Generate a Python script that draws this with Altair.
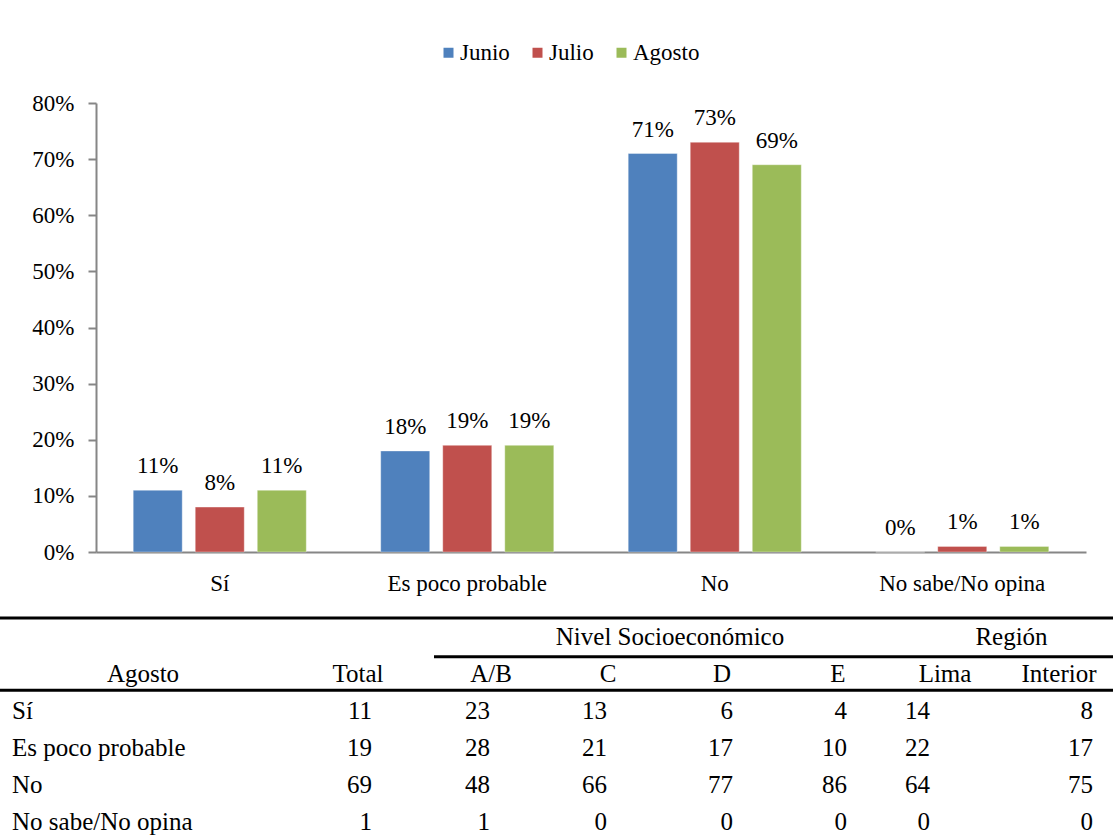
import altair as alt
import pandas as pd

# --- survey answers by month (percent) ---
categories = ["Sí", "Es poco probable", "No", "No sabe/No opina"]
months = ["Junio", "Julio", "Agosto"]
junio = [11, 18, 71, 0]
julio = [8, 19, 73, 1]
agosto = [11, 19, 69, 1]
month_colors = ["#4F81BD", "#C0504D", "#9BBB59"]
y_ticks = [0, 10, 20, 30, 40, 50, 60, 70, 80]

# --- August breakdown table ---
table_title = "Agosto"
table_columns = ["Total", "A/B", "C", "D", "E", "Lima", "Interior"]
row_si = [11, 23, 13, 6, 4, 14, 8]
row_poco = [19, 28, 21, 17, 10, 22, 17]
row_no = [69, 48, 66, 77, 86, 64, 75]
row_nsno = [1, 1, 0, 0, 0, 0, 0]
column_groups = {
    "Nivel Socioeconómico": ["A/B", "C", "D", "E"],
    "Región": ["Lima", "Interior"],
}

FONT = "Liberation Serif"
CHART_FS = 23
TABLE_FS = 25
W, H = 1113, 837

# ---------------- bar chart ----------------
bar_rows = []
for m, series in zip(months, [junio, julio, agosto]):
    for c, v in zip(categories, series):
        bar_rows.append({"cat": c, "mes": m, "val": v, "lbl": f"{v}%"})
bars_df = pd.DataFrame(bar_rows)

x_bar = alt.X(
    "cat:N",
    sort=categories,
    scale=alt.Scale(domain=categories, range=[96, 1086], paddingInner=0, paddingOuter=0),
    axis=alt.Axis(
        title=None, ticks=False, tickSize=0, labelPadding=20, labelAngle=0,
        domainColor="#868686", domainWidth=2, labelFont=FONT, labelFontSize=CHART_FS,
        labelColor="black", offset=-(H - 552),
    ),
)
xoff_bar = alt.XOffset(
    "mes:N", sort=months,
    scale=alt.Scale(domain=months, paddingInner=0.21, paddingOuter=0.6),
)
y_bar = alt.Y(
    "val:Q",
    scale=alt.Scale(domain=[0, 80], range=[552, 103], nice=False),
    axis=alt.Axis(
        title=None, values=y_ticks, labelExpr="datum.value + '%'", grid=False,
        tickSize=8, tickWidth=2, tickColor="#868686", domainColor="#868686",
        domainWidth=2, labelPadding=14, labelFont=FONT, labelFontSize=CHART_FS,
        labelColor="black", offset=-96,
    ),
)

base = alt.Chart(bars_df).encode(x=x_bar, xOffset=xoff_bar, y=y_bar)
bars = base.mark_bar(stroke="white", strokeOpacity=0.35, strokeWidth=1).encode(
    color=alt.Color(
        "mes:N", sort=months,
        scale=alt.Scale(domain=months, range=month_colors),
        legend=alt.Legend(
            title=None, orient="none", legendX=437, legendY=41,
            direction="horizontal", symbolType="square", symbolSize=100,
            symbolStrokeWidth=0, labelFont=FONT, labelFontSize=CHART_FS,
            labelColor="black", labelOffset=0, columnPadding=16, padding=0,
        ),
    )
)
value_labels = base.mark_text(
    font=FONT, fontSize=CHART_FS, baseline="alphabetic", dy=-17, color="black"
).encode(text="lbl:N")
bar_chart = alt.layer(bars, value_labels)

# ---------------- table ----------------
row_keys = ["grp", "hdr"] + categories
row_scale = alt.Scale(domain=row_keys, range=[618, 840], paddingInner=0, paddingOuter=0)
TEXT_BAND = 0.45


def row_y(band_pos=TEXT_BAND):
    return alt.Y("row:N", scale=row_scale, axis=None, bandPosition=band_pos)


# column headers, centred; index 0 is the title column
header_df = pd.DataFrame(
    {"row": "hdr", "ci": list(range(len(table_columns) + 1)),
     "txt": [table_title] + table_columns}
)
header_scale = alt.Scale(
    domain=list(range(len(table_columns) + 1)),
    range=[143, 358, 491, 608, 722, 838, 945, 1059], nice=False, zero=False,
)
headers = alt.Chart(header_df).mark_text(
    font=FONT, fontSize=TABLE_FS, baseline="middle", align="center", color="black"
).encode(x=alt.X("ci:Q", scale=header_scale, axis=None), y=row_y(), text="txt:N")

# numeric cells, right aligned
cell_rows = []
for r, vals in zip(categories, [row_si, row_poco, row_no, row_nsno]):
    for i, v in enumerate(vals):
        cell_rows.append({"row": r, "ci": i + 1, "txt": str(v)})
cell_scale = alt.Scale(
    domain=list(range(1, len(table_columns) + 1)),
    range=[372, 490, 607, 733, 847, 930, 1093], nice=False, zero=False,
)
cells = alt.Chart(pd.DataFrame(cell_rows)).mark_text(
    font=FONT, fontSize=TABLE_FS, baseline="middle", align="right", color="black"
).encode(x=alt.X("ci:Q", scale=cell_scale, axis=None), y=row_y(), text="txt:N")

# group headers sit over the middle of the columns they span
grp_rows = []
for name, cols in column_groups.items():
    idx = [table_columns.index(c) + 1 for c in cols]
    grp_rows.append({"row": "grp", "ci": (min(idx) + max(idx)) / 2, "txt": name})
groups = alt.Chart(pd.DataFrame(grp_rows)).mark_text(
    font=FONT, fontSize=TABLE_FS, baseline="middle", align="center", color="black"
).encode(x=alt.X("ci:Q", scale=cell_scale, axis=None), y=row_y(), text="txt:N")

# row labels
row_labels = alt.Chart(pd.DataFrame({"row": categories})).mark_text(
    font=FONT, fontSize=TABLE_FS, baseline="middle", align="left", color="black"
).encode(x=alt.value(12), y=row_y(), text="row:N")

# table borders
top_rule = alt.Chart(pd.DataFrame({"row": ["grp"]})).mark_rule(
    color="black", strokeWidth=3
).encode(y=row_y(0), x=alt.value(0), x2=alt.value(W))
group_rule = alt.Chart(pd.DataFrame({"row": ["hdr"]})).mark_rule(
    color="black", strokeWidth=3
).encode(y=row_y(0.05), x=alt.value(434), x2=alt.value(W))
header_rule = alt.Chart(pd.DataFrame({"row": ["hdr"]})).mark_rule(
    color="black", strokeWidth=3
).encode(y=row_y(0.95), x=alt.value(0), x2=alt.value(W))

chart = (
    alt.layer(
        bar_chart, headers, groups, cells, row_labels,
        top_rule, group_rule, header_rule,
    )
    .resolve_scale(x="independent", y="independent")
    .properties(
        width=W, height=H, padding=0, background="white",
        autosize=alt.AutoSizeParams(type="none"),
    )
    .configure_view(stroke=None)
)

chart.save("out.html", embed_options={"renderer": "svg", "actions": False})
